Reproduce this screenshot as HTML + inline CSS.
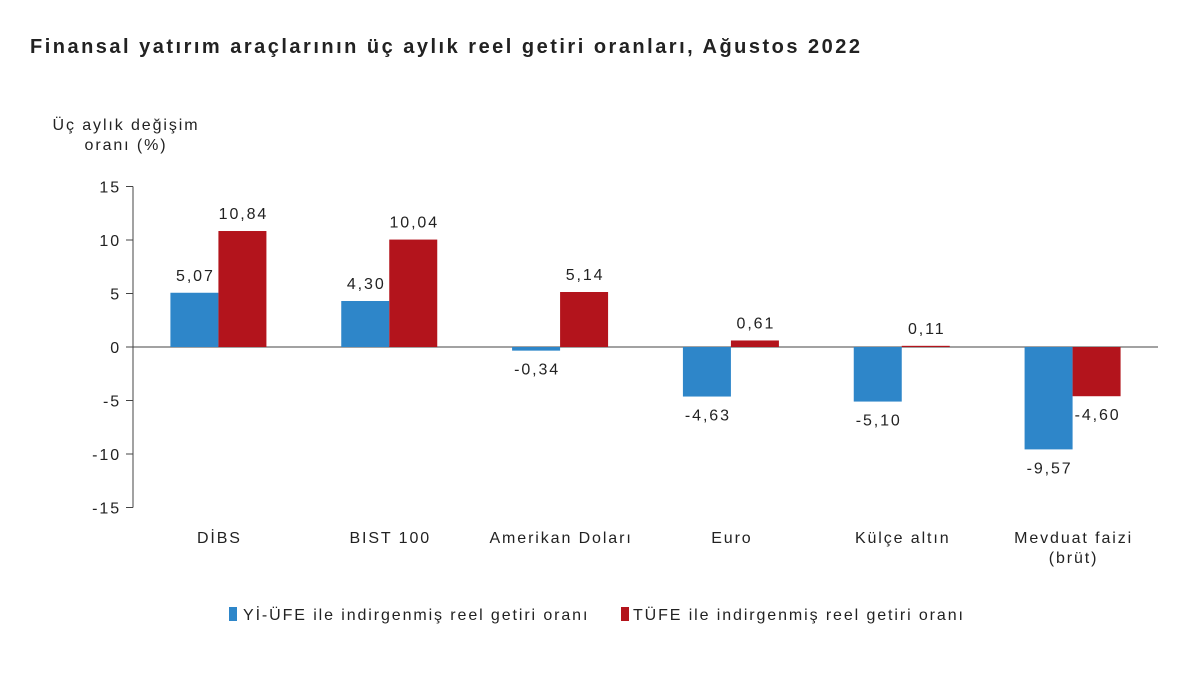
<!DOCTYPE html>
<html><head><meta charset="utf-8"><style>
body{margin:0;background:#fff;font-family:"Liberation Sans",sans-serif;}
svg text{font-family:"Liberation Sans",sans-serif;fill:#222;letter-spacing:1.9px;}
</style></head><body>
<svg width="1200" height="675">
<text x="30" y="53" font-size="20" font-weight="bold" textLength="830" lengthAdjust="spacing" style="letter-spacing:0">Finansal yatırım araçlarının üç aylık reel getiri oranları, Ağustos 2022</text>
<text x="126" y="130" font-size="16" text-anchor="middle">Üç aylık değişim</text>
<text x="126" y="150" font-size="16" text-anchor="middle">oranı (%)</text>
<g id="plot"></g>
<g>
<rect x="229" y="607" width="8" height="14" fill="#2e86c9"/>
<text x="243" y="620" font-size="16">Yİ-ÜFE ile indirgenmiş reel getiri oranı</text>
<rect x="621" y="607" width="8" height="14" fill="#b3141c"/>
<text x="633" y="620" font-size="16">TÜFE ile indirgenmiş reel getiri oranı</text>
</g>
</svg>
<script>
const categories=[["DİBS"],["BIST 100"],["Amerikan Doları"],["Euro"],["Külçe altın"],["Mevduat faizi","(brüt)"]];
const yiufe=[5.07,4.30,-0.34,-4.63,-5.10,-9.57];
const tufe=[10.84,10.04,5.14,0.61,0.11,-4.60];
const ticks=[15,10,5,0,-5,-10,-15];
const NS="http://www.w3.org/2000/svg";
const g=document.getElementById('plot');
const x0=133,x1=1158,y0=347,k=10.7;
const y=v=>y0-v*k;
const bw=(x1-x0)/categories.length;
function el(t,a){const e=document.createElementNS(NS,t);for(const n in a)e.setAttribute(n,a[n]);g.appendChild(e);return e;}
const fmt=v=>v.toFixed(2).replace('.',',');
ticks.forEach(t=>{
 const l=el('line',{x1:x0-7,x2:x0,y1:y(t),y2:y(t),stroke:'#444'});
 
 
 const tx=el('text',{x:x0-12,y:y(t)+6,'font-size':16,'text-anchor':'end'});tx.textContent=t;
 
 
});
const ax=el('line',{x1:x0,x2:x0,y1:y(15),y2:y(-15),stroke:'#444'});


const zx=el('line',{x1:x0,x2:x1,y1:y0,y2:y0,stroke:'#444'});


categories.forEach((c,i)=>{
 const cx=x0+bw*(i+0.5);
 [[yiufe[i],cx-48,'#2e86c9','bar-yiufe'],[tufe[i],cx,'#b3141c','bar-tufe']].forEach(([v,bx,col,nm])=>{
  const r=el('rect',{x:bx,y:Math.min(y(v),y0),width:48,height:Math.abs(v)*k,fill:col});
  
  
  const ly=v>=0?y(v)-12:y(v)+24;
  const t=el('text',{x:bx+25,y:ly,'font-size':16,'text-anchor':'middle'});t.textContent=fmt(v);
  
  
 });
 c.forEach((s,j)=>{
  const t=el('text',{x:cx+1,y:543+j*20,'font-size':16,'text-anchor':'middle'});t.textContent=s;
  
  
 });
});
</script>
</body></html>
